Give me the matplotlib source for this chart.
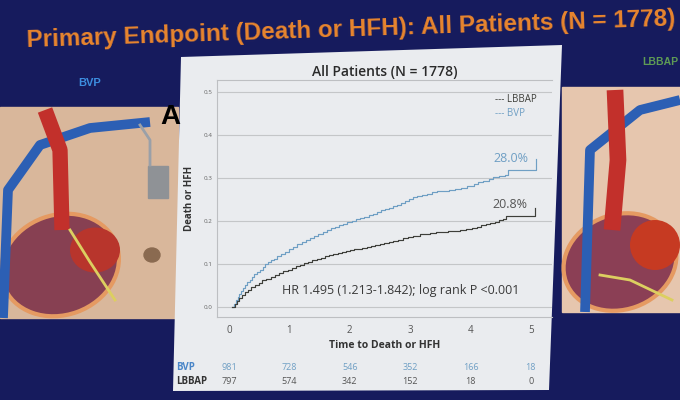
import matplotlib
matplotlib.use("Agg")
import matplotlib.pyplot as plt
from matplotlib.patches import Polygon, Rectangle, Ellipse

# Kaplan-Meier step points (years, cumulative event rate)
bvp_t = [0.05, 0.08, 0.11, 0.14, 0.17, 0.20, 0.23, 0.26, 0.30, 0.34, 0.38, 0.42, 0.46,
         0.51, 0.56, 0.60, 0.65, 0.70, 0.75, 0.80, 0.86, 0.93, 0.99, 1.06, 1.13, 1.20,
         1.27, 1.34, 1.41, 1.48, 1.55, 1.62, 1.69, 1.75, 1.82, 1.89, 1.96, 2.03, 2.10,
         2.17, 2.24, 2.31, 2.38, 2.45, 2.52, 2.58, 2.65, 2.72, 2.78, 2.85, 2.92, 2.98,
         3.05, 3.12, 3.20, 3.28, 3.36, 3.45, 3.55, 3.65, 3.75, 3.85, 3.95, 4.05, 4.12,
         4.20, 4.30, 4.38, 4.47, 4.57, 4.62, 5.07, 5.08]
bvp_v = [0.000, 0.008, 0.016, 0.024, 0.031, 0.038, 0.045, 0.052, 0.058, 0.064, 0.070,
         0.076, 0.081, 0.087, 0.094, 0.100, 0.104, 0.109, 0.113, 0.118, 0.123, 0.128,
         0.134, 0.140, 0.146, 0.151, 0.156, 0.161, 0.166, 0.170, 0.175, 0.179, 0.183,
         0.186, 0.190, 0.194, 0.198, 0.201, 0.204, 0.207, 0.210, 0.213, 0.217, 0.221,
         0.225, 0.228, 0.231, 0.234, 0.237, 0.241, 0.246, 0.251, 0.256, 0.259, 0.261,
         0.264, 0.267, 0.269, 0.271, 0.273, 0.275, 0.278, 0.282, 0.286, 0.290, 0.293,
         0.297, 0.302, 0.305, 0.308, 0.318, 0.318, 0.344]

lbbap_t = [0.05, 0.09, 0.13, 0.17, 0.21, 0.26, 0.31, 0.37, 0.43, 0.49, 0.55, 0.62, 0.69,
           0.76, 0.83, 0.90, 0.97, 1.04, 1.11, 1.17, 1.24, 1.31, 1.38, 1.45, 1.52, 1.59,
           1.66, 1.73, 1.80, 1.87, 1.94, 2.00, 2.07, 2.14, 2.21, 2.28, 2.35, 2.42, 2.50,
           2.57, 2.65, 2.72, 2.80, 2.88, 2.96, 3.05, 3.16, 3.25, 3.33, 3.42, 3.52, 3.62,
           3.72, 3.82, 3.92, 4.02, 4.10, 4.18, 4.26, 4.33, 4.40, 4.47, 4.53, 4.58, 5.06,
           5.07]
lbbap_v = [0.000, 0.008, 0.015, 0.021, 0.027, 0.034, 0.040, 0.046, 0.052, 0.057, 0.062,
           0.066, 0.070, 0.074, 0.079, 0.083, 0.087, 0.091, 0.095, 0.099, 0.103, 0.106,
           0.109, 0.112, 0.115, 0.118, 0.121, 0.124, 0.126, 0.128, 0.130, 0.132, 0.134,
           0.136, 0.138, 0.140, 0.142, 0.144, 0.147, 0.149, 0.152, 0.154, 0.157, 0.160,
           0.163, 0.166, 0.170, 0.171, 0.172, 0.174, 0.175, 0.176, 0.178, 0.180, 0.182,
           0.184, 0.187, 0.190, 0.193, 0.196, 0.199, 0.202, 0.206, 0.212, 0.212, 0.231]

risk_times = [0, 1, 2, 3, 4, 5]
bvp_risk = [981, 728, 546, 352, 166, 18]
lbbap_risk = [797, 574, 342, 152, 18, 0]

BLUE = "#6f9fc4"
DARK = "#3e3f3a"
NAVY = "#161b5d"

W, H = 680, 400
fig = plt.figure(figsize=(6.8, 4.0), dpi=100, facecolor=NAVY)

# background layer in pixel coordinates (slide decoration)
bg = fig.add_axes([0, 0, 1, 1])
bg.set_xlim(0, W)
bg.set_ylim(H, 0)
bg.axis("off")
bg.set_facecolor(NAVY)

# left illustration (BVP)
bg.add_patch(Rectangle((0, 107), 178, 211, color="#d9b79b"))
bg.plot([3, 8, 40, 90, 150], [318, 190, 145, 128, 122], color="#2c5fb4", lw=7, solid_capstyle="butt")
bg.plot([45, 60, 62], [110, 150, 230], color="#c2302b", lw=11, solid_capstyle="butt")
bg.plot([140, 150, 150], [125, 140, 165], color="#9aa0a8", lw=2)
bg.add_patch(Rectangle((148, 166), 20, 32, color="#8f9296"))
bg.add_patch(Ellipse((60, 265), 120, 100, angle=-20, facecolor="#874052", edgecolor="#e59a62", lw=3))
bg.add_patch(Ellipse((95, 250), 50, 45, facecolor="#b8352c"))
bg.plot([70, 90, 115], [230, 262, 300], color="#dccf60", lw=2)
bg.add_patch(Ellipse((152, 255), 16, 14, color="#8a6a50"))
bg.text(170, 117, "A", fontsize=20, fontweight="bold", color="black", ha="center", va="center",
        family="Liberation Sans")
bg.text(90, 83, "BVP", fontsize=8, fontweight="bold", color="#3d8ee0", ha="center", va="center",
        family="Liberation Sans")

# right illustration (LBBAP)
bg.add_patch(Rectangle((562, 87), 118, 225, color="#e6c6ae"))
bg.plot([585, 590, 640, 680], [312, 150, 110, 100], color="#2c5fb4", lw=7, solid_capstyle="butt")
bg.plot([615, 618, 612], [90, 160, 230], color="#c2302b", lw=12, solid_capstyle="butt")
bg.add_patch(Ellipse((620, 262), 115, 95, angle=-20, facecolor="#8b3f55", edgecolor="#e59a62", lw=3))
bg.add_patch(Ellipse((655, 245), 50, 50, facecolor="#c63a22"))
bg.plot([600, 630, 672], [275, 280, 300], color="#dccf60", lw=2)
bg.text(678, 62, "LBBAP", fontsize=7.5, fontweight="bold", color="#5e9b55", ha="right", va="center",
        family="Liberation Sans")

# slide title
bg.text(351, 30, "Primary Endpoint (Death or HFH): All Patients (N = 1778)", fontsize=17.5,
        fontweight="bold", color="#e8852e", ha="center", va="center", rotation=1.9,
        family="Liberation Sans")

# white projected panel
bg.add_patch(Polygon([(181, 57), (562, 45), (549, 390), (173, 391)], closed=True,
                     facecolor="#eaecef", edgecolor="none"))

# chart axes
ax = fig.add_axes([217 / W, 1 - 317 / H, (552 - 217) / W, (317 - 80) / H])
ax.set_facecolor("none")
ax.step(bvp_t, bvp_v, where="post", color=BLUE, lw=0.85)
ax.step(lbbap_t, lbbap_v, where="post", color=DARK, lw=0.85)

ax.set_xlim(-0.2, 5.35)
ax.set_ylim(-0.023, 0.528)
ax.set_xticks(risk_times)
ax.set_yticks([0.0, 0.1, 0.2, 0.3, 0.4, 0.5])
ax.set_yticklabels(["0.0", "0.1", "0.2", "0.3", "0.4", "0.5"])
ax.tick_params(axis="y", length=0, pad=3, labelsize=4.5, labelcolor="#666666")
ax.tick_params(axis="x", length=0, pad=6, labelsize=7, labelcolor="#555555")
ax.grid(axis="y", color="#c4c6c8", lw=0.8)
for s in ["left", "top", "bottom"]:
    ax.spines[s].set_color("#bdbfc2")
    ax.spines[s].set_linewidth(0.8)
ax.spines["right"].set_visible(False)
for lab in ax.get_xticklabels() + ax.get_yticklabels():
    lab.set_family("Open Sans")

ax.set_xlabel("Time to Death or HFH", fontsize=7.5, fontweight="bold", color="#333333",
              family="Open Sans", labelpad=3)
ax.set_ylabel("Death or HFH", fontsize=7, fontweight="bold", color="#333333",
              family="Open Sans", labelpad=6)

ax.set_title("All Patients (N = 1778)", fontsize=10, fontweight="semibold", color="#2a2a2a",
             family="Open Sans", pad=3)

ax.text(4.4, 0.483, "--- LBBAP", fontsize=7, color=DARK, family="Open Sans", va="center")
ax.text(4.4, 0.450, "--- BVP", fontsize=7, color=BLUE, family="Open Sans", va="center")
ax.text(4.67, 0.345, "28.0%", fontsize=9, color=BLUE, family="Open Sans", ha="center", va="center")
ax.text(4.65, 0.238, "20.8%", fontsize=9, color="#555555", family="Open Sans", ha="center", va="center")
ax.text(0.88, 0.038, "HR 1.495 (1.213-1.842); log rank P <0.001", fontsize=9, color="#3a3a3a",
        family="Open Sans", va="center")

# numbers at risk
tr = ax.get_xaxis_transform()
ax.text(-0.88, -0.215, "BVP", transform=tr, fontsize=7, fontweight="bold", color="#4a86c8",
        family="Open Sans", va="center", clip_on=False)
ax.text(-0.88, -0.274, "LBBAP", transform=tr, fontsize=7, fontweight="bold", color="#333333",
        family="Open Sans", va="center", clip_on=False)
for t, nb, nl in zip(risk_times, bvp_risk, lbbap_risk):
    ax.text(t, -0.215, str(nb), transform=tr, fontsize=6.5, color=BLUE, family="Open Sans",
            ha="center", va="center", clip_on=False)
    ax.text(t, -0.274, str(nl), transform=tr, fontsize=6.5, color="#555555", family="Open Sans",
            ha="center", va="center", clip_on=False)

fig.savefig("out.png", dpi=100, facecolor=NAVY)
